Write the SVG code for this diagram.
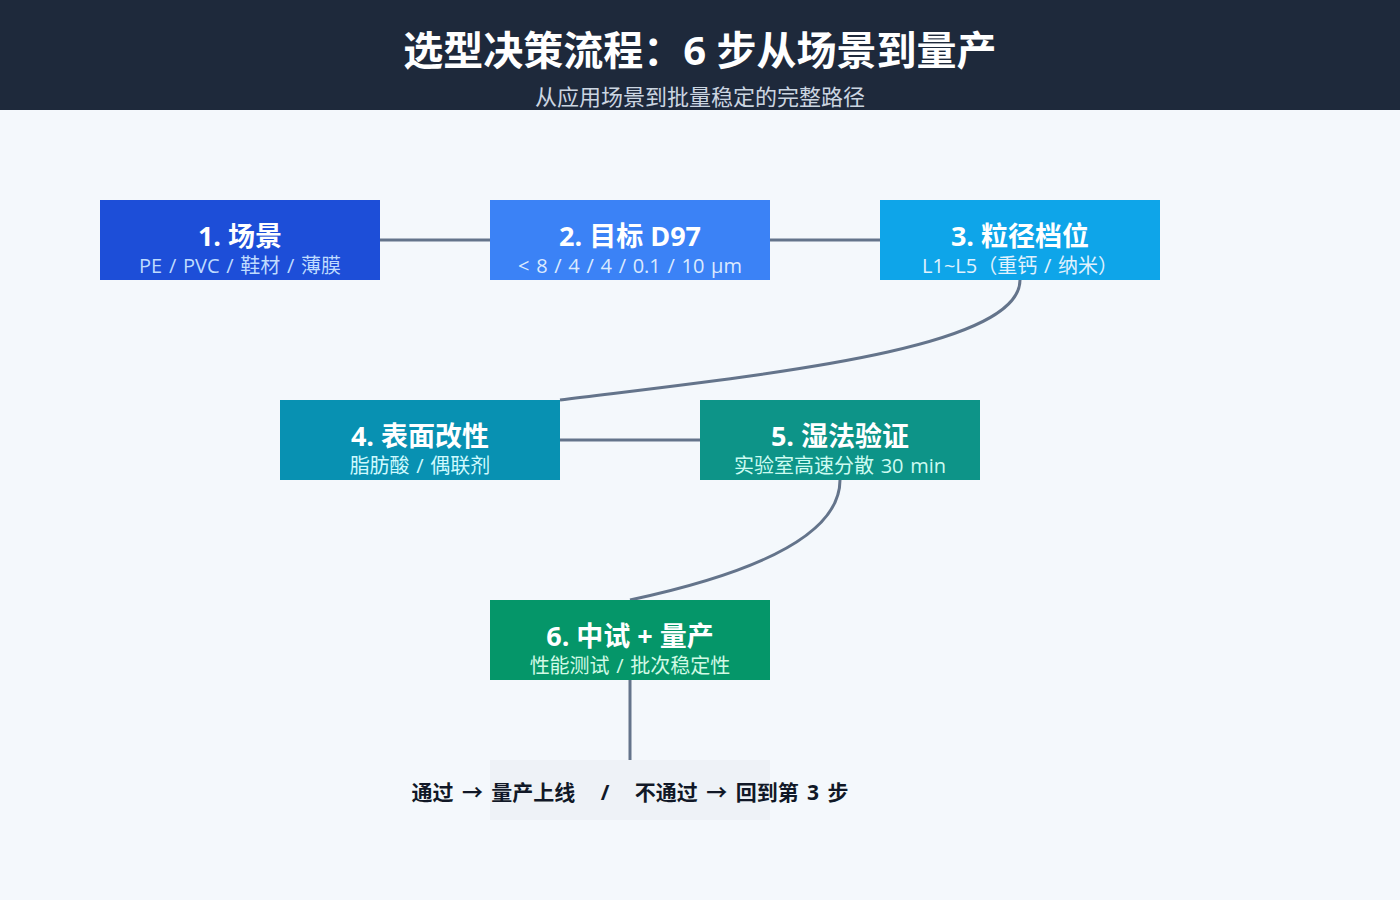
<svg xmlns="http://www.w3.org/2000/svg" width="1400" height="900" viewBox="0 0 1400 900">
<style>
text{font-family:"Open Sans","Noto Sans CJK SC",sans-serif;text-anchor:middle}
.t{font-size:27px;font-weight:700;fill:#ffffff}
.s{font-size:20px;word-spacing:1.5px}
.c{fill:none;stroke:#64748b;stroke-width:3}
</style>
<rect x="0" y="0" width="1400" height="900" fill="#f4f8fc"/>
<rect x="0" y="0" width="1400" height="110" fill="#1e293b"/>
<text x="700" y="65" style="font-size:40px;font-weight:700" fill="#ffffff">选型决策流程：6 步从场景到量产</text>
<text x="700" y="105" style="font-size:22px" fill="#cbd5e1">从应用场景到批量稳定的完整路径</text>
<g id="connectors">
<path class="c" d="M380 240H490"/>
<path class="c" d="M770 240H880"/>
<path class="c" d="M1020 280C1020 350 760 375 560 400"/>
<path class="c" d="M560 440H700"/>
<path class="c" d="M840 480C840 550 700 585 630 600"/>
<path class="c" d="M630 680V760"/>
</g>
<g id="n1"><rect x="100" y="200" width="280" height="80" fill="#1d4ed8"/><text class="t" x="240" y="246">1. 场景</text><text class="s" x="240" y="273" fill="#bfdbfe">PE / PVC / 鞋材 / 薄膜</text></g>
<g id="n2"><rect x="490" y="200" width="280" height="80" fill="#3b82f6"/><text class="t" x="630" y="246">2. 目标 D97</text><text class="s" x="630" y="273" fill="#dbeafe">&lt; 8 / 4 / 4 / 0.1 / 10 μm</text></g>
<g id="n3"><rect x="880" y="200" width="280" height="80" fill="#0ea5e9"/><text class="t" x="1020" y="246">3. 粒径档位</text><text class="s" x="1020" y="273" fill="#e0f2fe">L1~L5（重钙 / 纳米）</text></g>
<g id="n4"><rect x="280" y="400" width="280" height="80" fill="#0891b2"/><text class="t" x="420" y="446">4. 表面改性</text><text class="s" x="420" y="473" fill="#cffafe">脂肪酸 / 偶联剂</text></g>
<g id="n5"><rect x="700" y="400" width="280" height="80" fill="#0d9488"/><text class="t" x="840" y="446">5. 湿法验证</text><text class="s" x="840" y="473" fill="#ccfbf1">实验室高速分散 30 min</text></g>
<g id="n6"><rect x="490" y="600" width="280" height="80" fill="#059669"/><text class="t" x="630" y="646">6. 中试 + 量产</text><text class="s" x="630" y="673" fill="#d1fae5">性能测试 / 批次稳定性</text></g>
<g id="n7"><rect x="490" y="760" width="280" height="60" fill="#eef2f7"/><text x="630" y="800" style="font-size:21px;font-weight:700;word-spacing:3px" fill="#111827" xml:space="preserve">通过 → 量产上线   /   不通过 → 回到第 3 步</text></g>
</svg>
